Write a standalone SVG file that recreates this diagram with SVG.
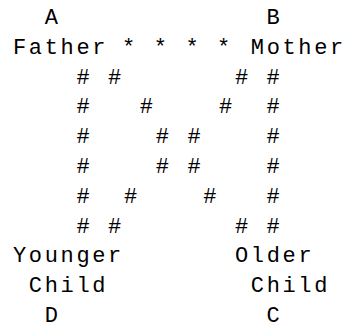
<svg xmlns="http://www.w3.org/2000/svg" width="348" height="328" viewBox="0 0 348 328">
<style>
text { font-family: "Liberation Mono", "DejaVu Sans Mono", monospace; font-size: 22px; fill: #000; }
.w { letter-spacing: 2.65px; }
.c { text-anchor: middle; }
</style>
<rect width="348" height="328" fill="#fff"/>
<g id="nodeA">
<text class="c" x="51.3" y="24">A</text>
<text class="w" x="13" y="53.8">Father</text>
</g>
<g id="nodeB">
<text class="c" x="273.2" y="24">B</text>
<text class="w" x="250.8" y="53.8">Mother</text>
</g>
<g id="nodeD">
<text class="w" x="13" y="262">Younger</text>
<text class="w" x="28.85" y="291.8">Child</text>
<text class="c" x="51.3" y="321.6">D</text>
</g>
<g id="nodeC">
<text class="w" x="235" y="262">Older</text>
<text class="w" x="250.8" y="291.8">Child</text>
<text class="c" x="273.2" y="321.6">C</text>
</g>
<g id="connectors" class="c">
<text class="c" x="128.5" y="53.8">*</text>
<text class="c" x="160.3" y="53.8">*</text>
<text class="c" x="192" y="53.8">*</text>
<text class="c" x="223.7" y="53.8">*</text>
<text class="c" x="83" y="83.6">#</text>
<text class="c" x="114.7" y="83.6">#</text>
<text class="c" x="241.5" y="83.6">#</text>
<text class="c" x="273.2" y="83.6">#</text>
<text class="c" x="83" y="113.4">#</text>
<text class="c" x="146.4" y="113.4">#</text>
<text class="c" x="225.7" y="113.4">#</text>
<text class="c" x="273.2" y="113.4">#</text>
<text class="c" x="83" y="143.2">#</text>
<text class="c" x="162.3" y="143.2">#</text>
<text class="c" x="194" y="143.2">#</text>
<text class="c" x="273.2" y="143.2">#</text>
<text class="c" x="83" y="173">#</text>
<text class="c" x="162.3" y="173">#</text>
<text class="c" x="194" y="173">#</text>
<text class="c" x="273.2" y="173">#</text>
<text class="c" x="83" y="202.8">#</text>
<text class="c" x="130.6" y="202.8">#</text>
<text class="c" x="209.8" y="202.8">#</text>
<text class="c" x="273.2" y="202.8">#</text>
<text class="c" x="83" y="232.6">#</text>
<text class="c" x="114.7" y="232.6">#</text>
<text class="c" x="241.5" y="232.6">#</text>
<text class="c" x="273.2" y="232.6">#</text>
</g>
</svg>
